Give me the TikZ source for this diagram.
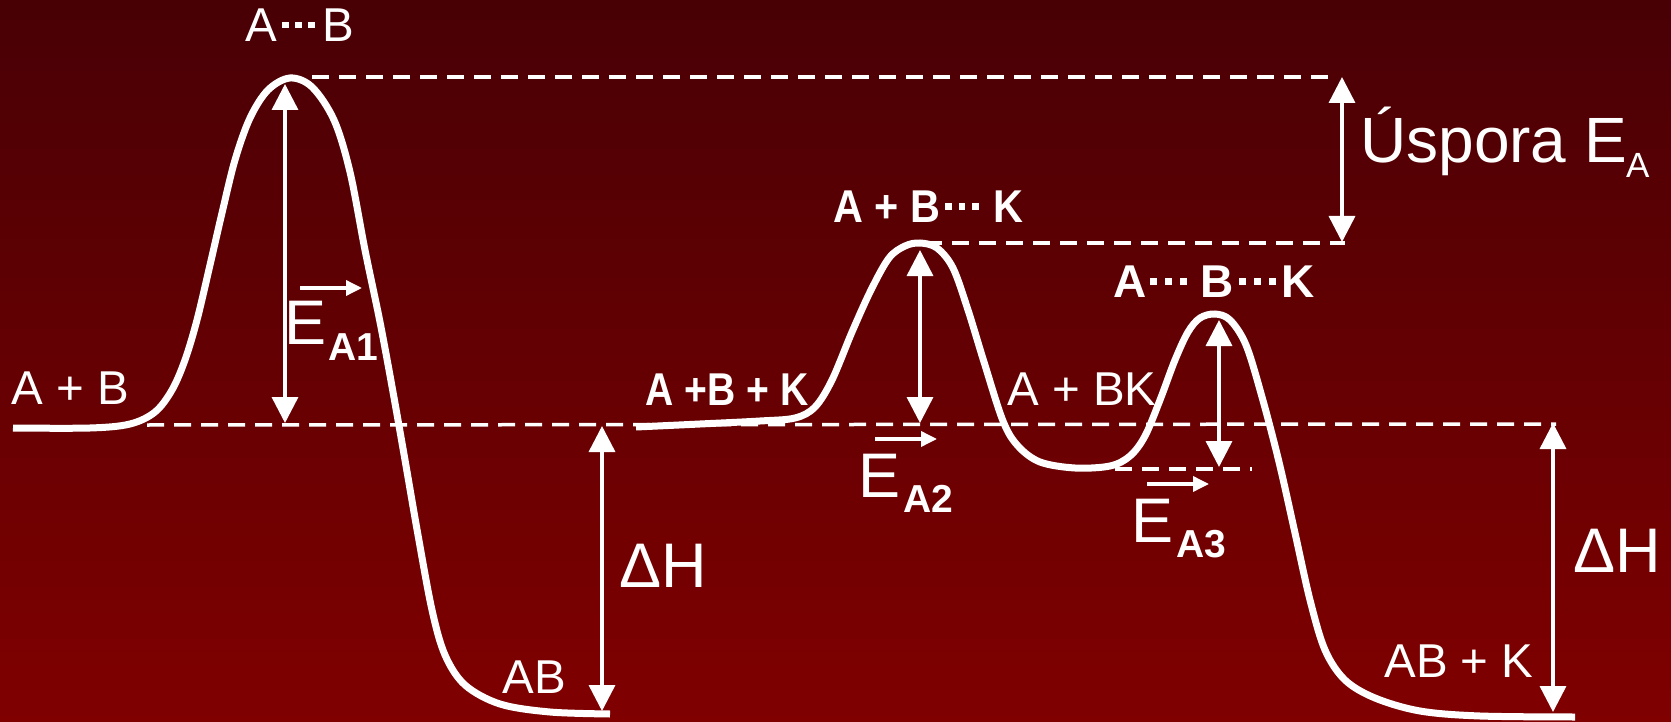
\documentclass[tikz,border=0pt]{standalone}
\usepackage{fontspec}
\usepackage{graphicx}
\setmainfont{Liberation Sans}
\usetikzlibrary{arrows.meta}
\definecolor{bgtop}{RGB}{72,0,5}
\definecolor{bgbot}{RGB}{128,0,0}
% three square dots: #1 size, #2 gap, #3 raise, #4 kern before, #5 kern after
\newcommand\sqdots[5]{\kern#4\rule[#3]{#1}{#1}\kern#2\rule[#3]{#1}{#1}\kern#2\rule[#3]{#1}{#1}\kern#5}
\begin{document}
\begin{tikzpicture}[x=1pt,y=-1pt,
  curve/.style={white, line width=7pt},
  dashln/.style={white, line width=3.5pt, dash pattern=on 17pt off 10pt},
  dbl/.style={white, line width=3.5pt, {Triangle[width=26pt,length=26pt]}-{Triangle[width=26pt,length=26pt]}},
  vec/.style={white, line width=3.5pt, -{Triangle[width=15pt,length=16pt]}},
  lbl/.style={text=white, inner sep=0pt, anchor=base, font=\fontsize{47.5}{50}\selectfont},
  blbl/.style={text=white, inner sep=0pt, anchor=base, font=\fontsize{46}{50}\selectfont\bfseries},
  big/.style={text=white, inner sep=0pt, anchor=base west, font=\fontsize{63}{66}\selectfont},
  subb/.style={text=white, inner sep=0pt, anchor=base west, font=\fontsize{39}{42}\selectfont\bfseries}
]
\shade[top color=bgtop, bottom color=bgbot] (0,0) rectangle (1671,722);
\useasboundingbox (0,0) rectangle (1671,722);

% dashed reference lines
\coordinate (dt1) at (312,77);   \coordinate (dt2) at (1337,77);
\coordinate (dm1) at (925,243);  \coordinate (dm2) at (1345,243);
\coordinate (db1) at (147,425);  \coordinate (db2) at (1556,424);
\coordinate (ds1) at (1115,469); \coordinate (ds2) at (1252,469);
\draw[dashln] (dt1) -- (dt2);
\draw[dashln] (dm1) -- (dm2);
\draw[dashln] (db1) -- (db2);
\draw[dashln] (ds1) -- (ds2);

% uncatalysed curve
\draw[curve] plot[smooth, tension=0.55] coordinates {
 (13,428) (90,428) (130,424) (155,412) (172,390) (185,360) (197,320)
 (210,265) (222,213) (235,160) (250,118) (268,90) (290,78) (312,87)
 (334,120) (350,172) (365,250) (380,322) (393,392) (405,460) (418,535)
 (432,610) (445,655) (465,685) (500,704) (550,712) (610,714)};

% catalysed curve
\draw[curve] plot[smooth, tension=0.55] coordinates {
 (636,427) (700,424) (760,421) (795,418) (815,407) (832,380) (852,332)
 (871,290) (889,258) (905,246) (920,243) (937,248) (953,268) (968,310)
 (984,362) (1003,421) (1018,446) (1040,462) (1075,468) (1110,466)
 (1130,456) (1145,436) (1160,400) (1175,360) (1188,332) (1200,318)
 (1215,314) (1230,320) (1246,345) (1262,397) (1279,462) (1295,533)
 (1310,600) (1325,650) (1345,680) (1375,698) (1420,711) (1480,716) (1575,717)};

% double arrows
\coordinate (a1t) at (285,84);   \coordinate (a1b) at (285,423);
\coordinate (h1t) at (602,426);  \coordinate (h1b) at (602,711);
\coordinate (a2t) at (920,250);  \coordinate (a2b) at (920,423);
\coordinate (a3t) at (1219,320); \coordinate (a3b) at (1219,467);
\coordinate (ust) at (1342,77);  \coordinate (usb) at (1342,242);
\coordinate (h2t) at (1553,423); \coordinate (h2b) at (1553,712);
\draw[dbl] (a1t) -- (a1b);
\draw[dbl] (h1t) -- (h1b);
\draw[dbl] (a2t) -- (a2b);
\draw[dbl] (a3t) -- (a3b);
\draw[dbl] (ust) -- (usb);
\draw[dbl] (h2t) -- (h2b);

% vector arrows above E
\coordinate (v1s) at (300,288);  \coordinate (v1e) at (362,288);
\coordinate (v2s) at (875,439);  \coordinate (v2e) at (937,439);
\coordinate (v3s) at (1147,484); \coordinate (v3e) at (1209,484);
\draw[vec] (v1s) -- (v1e);
\draw[vec] (v2s) -- (v2e);
\draw[vec] (v3s) -- (v3e);

% labels
\node[lbl] (tsab) at (300,42) {A\sqdots{6.5pt}{6.5pt}{13.5pt}{5pt}{8pt}B};
\node[lbl] (apb) at (70,404) {A + B};
\node[lbl] (prab) at (534,693) {AB};
\node[big, anchor=base] (dh1) at (663,587) {ΔH};
\node[big, anchor=base] (dh2) at (1617,572) {ΔH};
\node[blbl] (ts2) at (928,223) {\scalebox{0.9}[1]{A + B\sqdots{7pt}{8pt}{13pt}{6pt}{16pt}K}};
\node[blbl] (ts3) at (1214,298) {A\sqdots{7pt}{8pt}{13pt}{3pt}{14pt}B\sqdots{7pt}{8pt}{13pt}{5pt}{5pt}K};
\node[blbl] (rk) at (727,405) {\scalebox{0.85}[1]{A +B + K}};
\node[lbl] (abk) at (1082,405) {A + BK};
\node[lbl] (prk) at (1459,677) {AB + K};

\node[big] (e1) at (284,344) {E};
\node[subb] (e1s) at (328,360) {A1};
\node[big] (e2) at (858,497) {E};
\node[subb] (e2s) at (903,512) {A2};
\node[big] (e3) at (1131,542) {E};
\node[subb] (e3s) at (1176,557) {A3};

\node[big, font=\fontsize{64}{66}\selectfont] (usp) at (1360,163) {Úspora E};
\node[text=white, inner sep=0pt, anchor=base west, font=\fontsize{35}{38}\selectfont] (usps) at (1626,178) {A};
\end{tikzpicture}
\end{document}
